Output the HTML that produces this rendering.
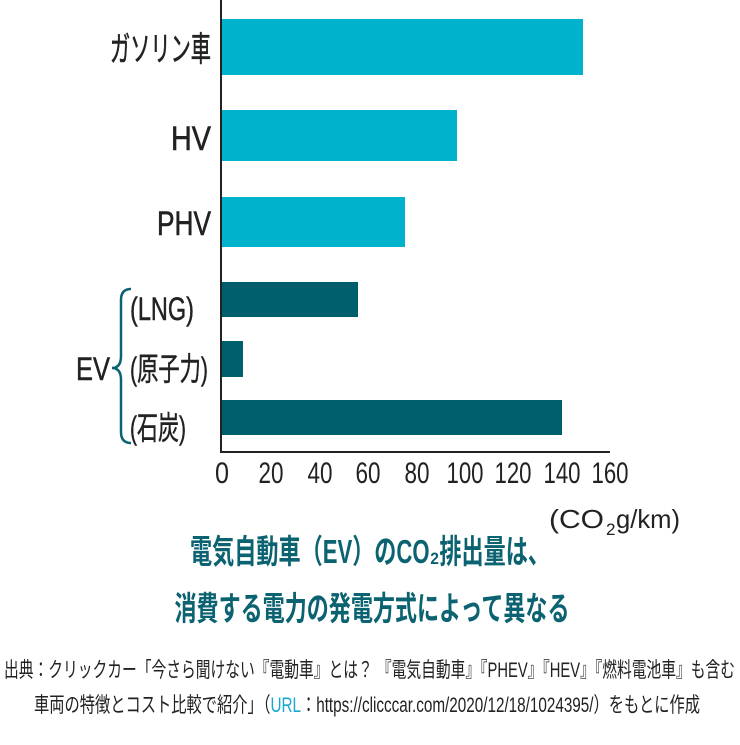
<!DOCTYPE html>
<html><head><meta charset="utf-8"><style>
html,body{margin:0;padding:0;background:#fff;}
svg text{font-family:"Liberation Sans","Noto Sans CJK JP",sans-serif;}
</style></head><body>
<svg width="740" height="740" viewBox="0 0 740 740" xmlns="http://www.w3.org/2000/svg">
<rect width="740" height="740" fill="#fff"/>
<g fill="#00b2cc">
<rect x="221" y="19" width="362" height="56"/>
<rect x="221" y="110" width="236" height="51"/>
<rect x="221" y="197" width="184" height="50"/>
</g>
<g fill="#005f6d">
<rect x="221" y="282" width="137" height="35"/>
<rect x="221" y="341" width="22" height="36"/>
<rect x="221" y="400" width="341" height="35"/>
</g>
<line x1="221" y1="0" x2="221" y2="452" stroke="#222" stroke-width="2"/>
<line x1="220" y1="452" x2="610" y2="452" stroke="#222" stroke-width="2"/>
<g font-size="30" fill="#222" text-anchor="middle">
<text x="222" y="483" textLength="14" lengthAdjust="spacingAndGlyphs">0</text>
<text x="271" y="483" textLength="25" lengthAdjust="spacingAndGlyphs">20</text>
<text x="320" y="483" textLength="25" lengthAdjust="spacingAndGlyphs">40</text>
<text x="368" y="483" textLength="25" lengthAdjust="spacingAndGlyphs">60</text>
<text x="417" y="483" textLength="25" lengthAdjust="spacingAndGlyphs">80</text>
<text x="465" y="483" textLength="37" lengthAdjust="spacingAndGlyphs">100</text>
<text x="513" y="483" textLength="37" lengthAdjust="spacingAndGlyphs">120</text>
<text x="562" y="483" textLength="37" lengthAdjust="spacingAndGlyphs">140</text>
<text x="610" y="483" textLength="37" lengthAdjust="spacingAndGlyphs">160</text>
</g>
<text x="549" y="528" font-size="26" fill="#222" textLength="55" lengthAdjust="spacingAndGlyphs">(CO</text>
<text x="606" y="535" font-size="17" fill="#222">2</text>
<text x="616" y="528" font-size="26" fill="#222" textLength="64" lengthAdjust="spacingAndGlyphs">g/km)</text>
<g font-size="34" fill="#222" text-anchor="end" stroke="#222" stroke-width="0.6">
<text x="211" y="61" textLength="101" lengthAdjust="spacingAndGlyphs">ガソリン車</text>
<text x="211" y="150" textLength="40" lengthAdjust="spacingAndGlyphs">HV</text>
<text x="211" y="235" textLength="54" lengthAdjust="spacingAndGlyphs">PHV</text>
</g>
<g font-size="32" fill="#222" stroke="#222" stroke-width="0.5">
<text x="130" y="320" textLength="64" lengthAdjust="spacingAndGlyphs">(LNG)</text>
<text x="130" y="380" textLength="78" lengthAdjust="spacingAndGlyphs">(原子力)</text>
<text x="130" y="439" textLength="56" lengthAdjust="spacingAndGlyphs">(石炭)</text>
<text x="76" y="380" textLength="34" lengthAdjust="spacingAndGlyphs">EV</text>
</g>
<path d="M131 289 Q121 289 121 300 L121 356 Q121 368 112 368 Q121 368 121 380 L121 432 Q121 443 131 443" fill="none" stroke="#0a6272" stroke-width="2.5"/>
<g fill="#0b6270" font-weight="bold" text-anchor="middle">
<text x="370" y="563" font-size="33" textLength="360" lengthAdjust="spacingAndGlyphs">電気自動車（EV）のCO₂排出量は、</text>
<text x="372" y="620" font-size="33" textLength="395" lengthAdjust="spacingAndGlyphs">消費する電力の発電方式によって異なる</text>
</g>
<g font-size="21" fill="#222">
<text x="4" y="677" textLength="731" lengthAdjust="spacingAndGlyphs">出典：クリックカー「今さら聞けない『電動車』とは？ 『電気自動車』『PHEV』『HEV』『燃料電池車』も含む</text>
<text x="34" y="712" textLength="666" lengthAdjust="spacingAndGlyphs">車両の特徴とコスト比較で紹介」（<tspan fill="#1aa7d0">URL</tspan>：https://clicccar.com/2020/12/18/1024395/）をもとに作成</text>
</g>
</svg>
</body></html>
